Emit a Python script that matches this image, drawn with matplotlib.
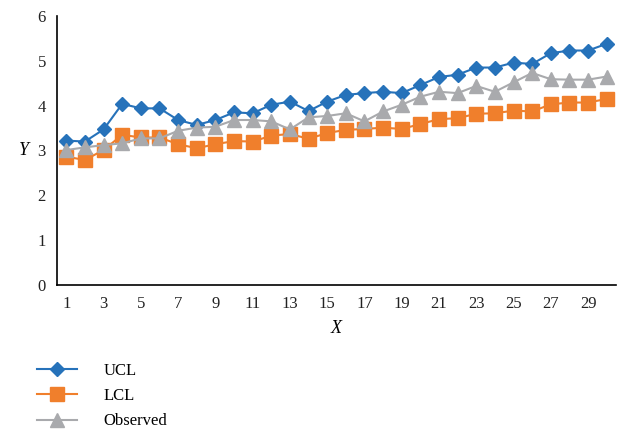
import matplotlib
matplotlib.use("Agg")
import matplotlib.pyplot as plt
import numpy as np

x = list(range(1, 31))
ucl = [3.22, 3.20, 3.47, 4.04, 3.94, 3.94, 3.68, 3.57, 3.68, 3.85,
       3.83, 4.02, 4.09, 3.88, 4.09, 4.24, 4.28, 4.31, 4.28, 4.46,
       4.64, 4.69, 4.85, 4.85, 4.96, 4.93, 5.17, 5.23, 5.23, 5.38]
lcl = [2.86, 2.79, 3.01, 3.35, 3.29, 3.29, 3.14, 3.05, 3.14, 3.21,
       3.20, 3.33, 3.37, 3.26, 3.39, 3.46, 3.48, 3.51, 3.48, 3.59,
       3.70, 3.72, 3.82, 3.83, 3.89, 3.87, 4.03, 4.07, 4.07, 4.15]
observed = [3.01, 3.07, 3.12, 3.16, 3.27, 3.27, 3.44, 3.51, 3.53, 3.68,
            3.68, 3.65, 3.47, 3.74, 3.77, 3.83, 3.65, 3.87, 4.02, 4.20,
            4.31, 4.28, 4.44, 4.31, 4.52, 4.73, 4.59, 4.58, 4.58, 4.65]
xticks = list(range(1, 30, 2))
yticks = [0, 1, 2, 3, 4, 5, 6]

plt.rcParams['font.family'] = ['Liberation Serif', 'DejaVu Serif']

fig = plt.figure(figsize=(6.25, 4.3), dpi=100)
ax = fig.add_axes([57/625, 1-285/430, (616-57)/625, (285-16)/430])

ax.plot(x, ucl, color='#2672BA', marker='D', markersize=7.5, lw=1.5, label='UCL')
ax.plot(x, lcl, color='#F07F2C', marker='s', markersize=9.5, lw=1.5, label='LCL')
ax.plot(x, observed, color='#A9AAAD', marker='^', markersize=9.5, lw=1.5, label='Observed')

ax.set_xlim(0.5, 30.5)
ax.set_ylim(0, 6)
ax.set_xticks(xticks)
ax.set_yticks(yticks)
ax.tick_params(length=0, labelsize=12, colors='#222222', pad=8)
for s in ['top', 'right']:
    ax.spines[s].set_visible(False)
for s in ['left', 'bottom']:
    ax.spines[s].set_color('black')
    ax.spines[s].set_linewidth(1.2)

ax.set_xlabel('X', fontsize=13, style='italic', labelpad=6)
ax.set_ylabel('Y', fontsize=13, style='italic', rotation=0, labelpad=10, va='center')

leg = fig.legend(loc='upper left', bbox_to_anchor=(22/625, 1-348/430), frameon=False,
                 fontsize=12, handlelength=2.4, handletextpad=1.6, labelspacing=0.55)

fig.savefig('out.png', dpi=100)
